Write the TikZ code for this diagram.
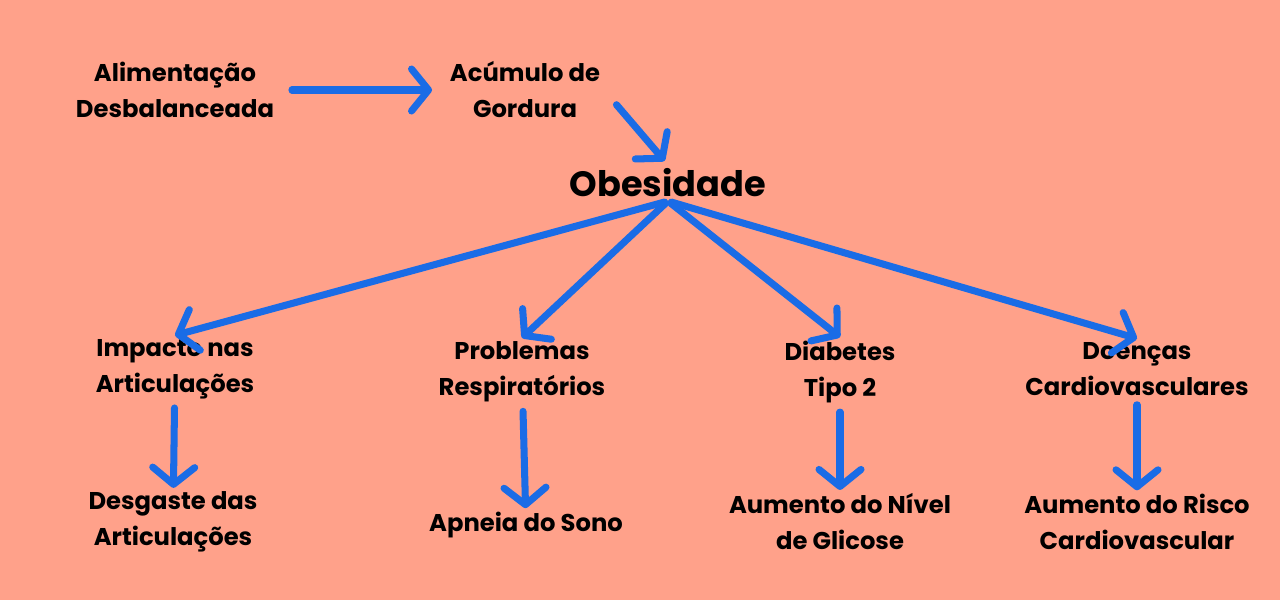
\documentclass[tikz,border=0pt]{standalone}
\usepackage{fontspec}
\setmainfont{Poppins}
\usetikzlibrary{arrows.meta}

\definecolor{salmonbg}{HTML}{FFA18A}
\definecolor{arrowblue}{HTML}{1A6CE6}

\begin{document}
\begin{tikzpicture}[
    concept/.style={text centered, align=center, inner sep=2pt, font=\fontsize{13.8}{20.5}\selectfont\bfseries},
    central/.style={text centered, inner sep=2pt, font=\fontsize{20}{24}\selectfont\bfseries},
    arrow/.style={-{Straight Barb[length=0.34cm, width=0.84cm, round]}, line width=4pt, line cap=round, arrowblue},
]

%Background
\fill[salmonbg] (0, 0) rectangle (25.6, -12);

% Causes
\node[concept] (alimentacao) at (3.5, -1.8) {Alimentação\\Desbalanceada};
\node[concept] (gordura) at (10.5, -1.8) {Acúmulo de\\Gordura};

% Centre
\node[central] (obesidade) at (13.36, -3.66) {Obesidade};

% Consequences
\node[concept] (articulacoes) at (3.5, -7.38) {Impacto nas\\Articulações};
\node[concept] (respiratorios) at (10.44, -7.44) {Problemas\\Respiratórios};
\node[concept] (diabetes) at (16.8, -7.44) {Diabetes\\Tipo 2};
\node[concept] (cardio) at (22.74, -7.38) {Doenças\\Cardiovasculares};

% Effects
\node[concept] (desgaste) at (3.46, -10.44) {Desgaste das\\Articulações};
\node[concept] (apneia) at (10.52, -10.5) {Apneia do Sono};
\node[concept] (glicose) at (16.8, -10.44) {Aumento do Nível\\de Glicose};
\node[concept] (risco) at (22.74, -10.44) {Aumento do Risco\\Cardiovascular};

% Arrows
\draw[arrow, shorten <=8pt, shorten >=8pt] (alimentacao) -- (gordura);
\draw[arrow, shorten <=11pt, shorten >=3pt] (gordura.east) -- (obesidade.north);

\draw[arrow, shorten <=2pt] (obesidade.south) -- (articulacoes.north);
\draw[arrow, shorten <=2pt] (obesidade.south) -- (respiratorios.north);
\draw[arrow, shorten <=2pt] (obesidade.south) -- (diabetes.north);
\draw[arrow, shorten <=2pt] (obesidade.south) -- (cardio.north);

\draw[arrow, shorten <=3pt] (articulacoes) -- (desgaste);
\draw[arrow, shorten <=3pt] (respiratorios) -- (apneia);
\draw[arrow, shorten <=3pt] (diabetes) -- (glicose);
\draw[arrow, shorten <=3pt] (cardio) -- (risco);

\end{tikzpicture}
\end{document}
